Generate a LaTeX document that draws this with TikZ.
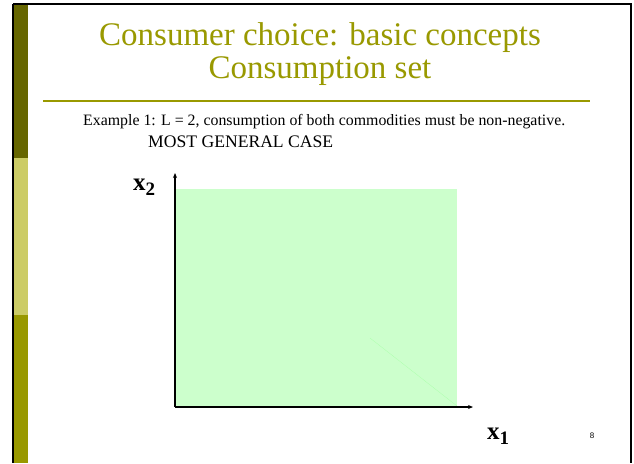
\documentclass[tikz,border=0pt]{standalone}
\usepackage{fontspec}
\usepackage{graphicx}
\setmainfont{Liberation Serif}
\newfontfamily\numfont{Liberation Sans}
\usetikzlibrary{arrows.meta}
\definecolor{olivedark}{HTML}{666600}
\definecolor{olivelight}{HTML}{CCCC66}
\definecolor{olivemid}{HTML}{999900}
\definecolor{setgreen}{HTML}{CCFFCC}
\newcommand{\lowsub}[1]{\raisebox{-5pt}{\fontsize{19}{19}\selectfont #1}}
\begin{document}
\begin{tikzpicture}[x=1pt,y=-1pt,
  axis/.style={line width=1.2pt,-{Stealth[length=5pt,width=4pt]}},
  axlabel/.style={font=\fontsize{25}{25}\selectfont\bfseries, inner sep=0pt},
  bodytext/.style={anchor=base west, inner sep=0pt, font=\fontsize{16}{18}\selectfont},
  titletext/.style={font=\fontsize{33}{35}\selectfont, text=olivemid, align=center, inner sep=0pt}]
\useasboundingbox (0,0) rectangle (634,463);
\fill[white] (0,0) rectangle (634,463);
% left bar
\fill[olivedark] (14,4) rectangle (28,158);
\fill[olivelight] (14,158) rectangle (28,315);
\fill[olivemid] (14,315) rectangle (28,463);
% frame
\draw[line width=2pt] (13,4) -- (631,4) -- (631,463);
\draw[line width=2pt] (13,4) -- (13,463);
% title
\node[titletext, anchor=base] (t1) at (320,45) {Consumer choice: basic concepts};
\node[titletext, anchor=base] (t2) at (320,78) {Consumption set};
\draw[olivemid, line width=1.3pt] (43,101) -- (590,101);
% text
\node[bodytext] (ex) at (83,125) {\resizebox{482pt}{!}{Example 1: L = 2, consumption of both commodities must be non-negative.}};
\node[bodytext] (mg) at (148,147) {\resizebox{185pt}{!}{MOST GENERAL CASE}};
% consumption set
\fill[setgreen] (175,189) rectangle (457,407);
\draw[green!15!setgreen, line width=0.3pt] (370,338) -- (457,406);
% axes
\coordinate (o) at (175,407);
\coordinate (ytop) at (175,173);
\coordinate (xend) at (473,407);
\draw[axis] (o) -- (ytop);
\draw[axis] (o) -- (xend);
\node[axlabel, anchor=base west] (x2) at (133,190) {x\lowsub{2}};
\node[axlabel, anchor=base west] (x1) at (487,439) {x\lowsub{1}};
\node[font=\numfont\fontsize{8}{8}\selectfont, inner sep=0pt] (pg) at (592,436) {8};
\end{tikzpicture}
\end{document}
